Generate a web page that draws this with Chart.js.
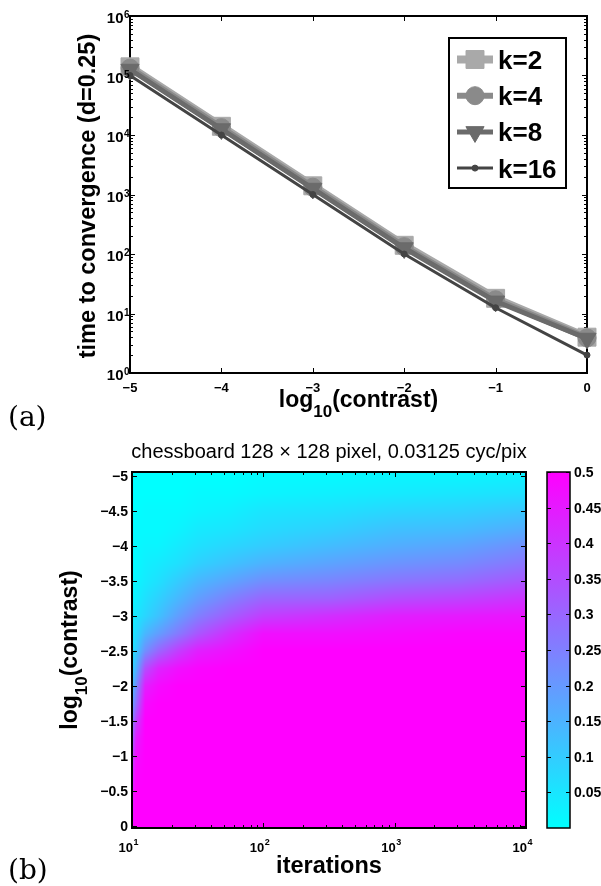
<!DOCTYPE html>
<html>
<head>
<meta charset="utf-8">
<script src="https://cdn.jsdelivr.net/npm/chart.js@4/dist/chart.umd.min.js"></script>
<style>
html,body{margin:0;padding:0;background:#fff;}
body{width:601px;height:886px;position:relative;overflow:hidden;}
#c1{position:absolute;left:0;top:0;}
#c2{position:absolute;left:0;top:425px;}
.lab{position:absolute;font-family:"DejaVu Serif","Liberation Serif",serif;font-size:28px;line-height:normal;color:#000;}
</style>
</head>
<body>
<canvas id="c1" width="601" height="425"></canvas>
<canvas id="c2" width="601" height="461"></canvas>
<div class="lab" style="left:8px;top:400px">(a)</div>
<div class="lab" style="left:8px;top:853px">(b)</div>
<script>
// ---------------- data: panel (a) ----------------
const contrastExp = [-5, -4, -3, -2, -1, 0];
const timeK2  = [140000, 14000, 1400, 140, 18, 4.0];
const timeK4  = [133000, 13300, 1330, 133, 17, 3.9];
const timeK8  = [126000, 12600, 1260, 126, 16, 3.8];
const timeK16 = [100000, 10000, 1000, 100, 12.5, 2.0];
const seriesLabels = ['k=2', 'k=4', 'k=8', 'k=16'];
const topXTicks = [-5, -4, -3, -2, -1, 0];
const topYTickExps = [0, 1, 2, 3, 4, 5, 6];
const topXTitle = ['log', '10', '(contrast)'];
const topYTitle = 'time to convergence (d=0.25)';

// ---------------- data: panel (b) ----------------
const heatTitle = 'chessboard 128 \u00d7 128 pixel, 0.03125 cyc/pix';
const heatXTitle = 'iterations';
const heatYTitle = ['log', '10', '(contrast)'];
const heatIterExp = [1, 1.03, 1.1, 1.2, 1.35, 1.5, 1.75, 2, 2.5, 3, 3.5, 4];
const heatContrast = [-5, -4.75, -4.5, -4.25, -4, -3.75, -3.5, -3.25, -3, -2.75, -2.5, -2.25, -2, -1.75, -1.5, -1.25, -1, -0.75, -0.5, -0.25, 0];
const heatValues = [
  [0.00,0.00,0.00,0.00,0.00,0.00,0.00,0.01,0.01,0.02,0.02,0.03],
  [0.00,0.00,0.00,0.00,0.00,0.01,0.01,0.02,0.03,0.04,0.05,0.06],
  [0.00,0.00,0.01,0.01,0.01,0.02,0.03,0.05,0.06,0.08,0.09,0.11],
  [0.00,0.01,0.01,0.01,0.02,0.04,0.05,0.07,0.09,0.12,0.13,0.16],
  [0.01,0.01,0.02,0.02,0.04,0.06,0.08,0.10,0.13,0.16,0.18,0.22],
  [0.01,0.01,0.03,0.04,0.06,0.09,0.12,0.15,0.18,0.21,0.23,0.27],
  [0.01,0.02,0.04,0.06,0.10,0.14,0.18,0.22,0.24,0.27,0.29,0.33],
  [0.02,0.03,0.06,0.09,0.14,0.19,0.25,0.30,0.31,0.35,0.37,0.40],
  [0.03,0.05,0.08,0.12,0.19,0.25,0.32,0.38,0.41,0.44,0.45,0.46],
  [0.04,0.07,0.14,0.19,0.26,0.33,0.41,0.47,0.47,0.48,0.49,0.49],
  [0.05,0.10,0.22,0.30,0.38,0.44,0.47,0.50,0.50,0.50,0.50,0.50],
  [0.08,0.15,0.35,0.43,0.47,0.49,0.50,0.50,0.50,0.50,0.50,0.50],
  [0.11,0.22,0.44,0.48,0.50,0.50,0.50,0.50,0.50,0.50,0.50,0.50],
  [0.17,0.28,0.48,0.50,0.50,0.50,0.50,0.50,0.50,0.50,0.50,0.50],
  [0.23,0.37,0.50,0.50,0.50,0.50,0.50,0.50,0.50,0.50,0.50,0.50],
  [0.28,0.44,0.50,0.50,0.50,0.50,0.50,0.50,0.50,0.50,0.50,0.50],
  [0.35,0.47,0.50,0.50,0.50,0.50,0.50,0.50,0.50,0.50,0.50,0.50],
  [0.40,0.49,0.50,0.50,0.50,0.50,0.50,0.50,0.50,0.50,0.50,0.50],
  [0.44,0.50,0.50,0.50,0.50,0.50,0.50,0.50,0.50,0.50,0.50,0.50],
  [0.46,0.50,0.50,0.50,0.50,0.50,0.50,0.50,0.50,0.50,0.50,0.50],
  [0.48,0.50,0.50,0.50,0.50,0.50,0.50,0.50,0.50,0.50,0.50,0.50]
];
const heatXTickExps = [1, 2, 3, 4];
const heatYTicks = [-5, -4.5, -4, -3.5, -3, -2.5, -2, -1.5, -1, -0.5, 0];
const colorbarTicks = [0.05, 0.1, 0.15, 0.2, 0.25, 0.3, 0.35, 0.4, 0.45, 0.5];
const colorbarMax = 0.5;

// ---------------- helpers ----------------
const FONT = '"Liberation Sans", Arial, Helvetica, sans-serif';
function fmt(v){ return v < 0 ? '\u2212' + String(-v) : String(v); }
function coolRGB(v){
  let t = v / colorbarMax; t = Math.max(0, Math.min(1, t));
  return [Math.round(255*t), Math.round(255*(1-t)), 255];
}
function drawMarker(ctx, style, r, rot, x, y){
  ctx.beginPath();
  if (style === 'rect'){
    const s = Math.SQRT1_2 * r; ctx.rect(x - s, y - s, 2*s, 2*s);
  } else if (style === 'triangle'){
    let rad = rot * Math.PI / 180;
    ctx.moveTo(x + Math.sin(rad)*r, y - Math.cos(rad)*r);
    rad += 2*Math.PI/3; ctx.lineTo(x + Math.sin(rad)*r, y - Math.cos(rad)*r);
    rad += 2*Math.PI/3; ctx.lineTo(x + Math.sin(rad)*r, y - Math.cos(rad)*r);
    ctx.closePath();
  } else {
    ctx.arc(x, y, r, 0, Math.PI*2);
  }
  ctx.fill(); ctx.stroke();
}
function drawPow(ctx, base, exp, xBaseRight, yBase, fB, fE, raise){
  ctx.textAlign = 'right'; ctx.textBaseline = 'alphabetic';
  ctx.font = 'bold ' + fB + 'px ' + FONT;
  ctx.fillText(base, xBaseRight, yBase);
  ctx.textAlign = 'left';
  ctx.font = 'bold ' + fE + 'px ' + FONT;
  ctx.fillText(exp, xBaseRight + 0.5, yBase - raise);
}
function measure(ctx, font, s){ ctx.font = font; return ctx.measureText(s).width; }
function drawLogTitle(ctx, parts, cx, base, fMain, fSub, drop){
  const fm = 'bold ' + fMain + 'px ' + FONT, fs = 'bold ' + fSub + 'px ' + FONT;
  const w0 = measure(ctx, fm, parts[0]), w1 = measure(ctx, fs, parts[1]) , w2 = measure(ctx, fm, parts[2]);
  let x0 = cx - (w0 + w1 + w2) / 2;
  ctx.textAlign = 'left'; ctx.textBaseline = 'alphabetic';
  ctx.font = fm; ctx.fillText(parts[0], x0, base);
  ctx.font = fs; ctx.fillText(parts[1], x0 + w0, base + drop);
  ctx.font = fm; ctx.fillText(parts[2], x0 + w0 + w1, base);
}

// ---------------- panel (a) ----------------
const seriesStyle = [
  {data: timeK2,  color: '#a9a9a9', width: 8, style: 'rect',     r: 12.7, rot: 0,   order: 4},
  {data: timeK4,  color: '#8a8a8a', width: 6, style: 'circle',   r: 9,    rot: 0,   order: 3},
  {data: timeK8,  color: '#6b6b6b', width: 5, style: 'triangle', r: 10.5, rot: 180, order: 2},
  {data: timeK16, color: '#444444', width: 3, style: 'circle',   r: 3,    rot: 0,   order: 1}
];
const topDatasets = seriesStyle.map((s, i) => ({
  label: seriesLabels[i],
  data: contrastExp.map((c, j) => ({x: c, y: s.data[j]})),
  borderColor: s.color, backgroundColor: s.color,
  borderWidth: s.width,
  pointStyle: s.style, pointRadius: s.r, pointRotation: s.rot,
  pointBackgroundColor: s.color, pointBorderColor: s.color, pointBorderWidth: 1,
  tension: 0, clip: false, order: s.order
}));

const topDeco = {
  id: 'topDeco',
  beforeDatasetsDraw(chart){
    const {ctx, chartArea: a, scales: {x, y}} = chart;
    ctx.save();
    ctx.strokeStyle = '#000';
    ctx.lineWidth = 1;
    ctx.beginPath();
    topXTicks.forEach(v => {
      const px = Math.round(x.getPixelForValue(v)) + 0.5;
      ctx.moveTo(px, a.bottom); ctx.lineTo(px, a.bottom - 5);
      ctx.moveTo(px, a.top); ctx.lineTo(px, a.top + 5);
    });
    topYTickExps.forEach((e, i) => {
      const py = Math.round(y.getPixelForValue(Math.pow(10, e))) + 0.5;
      ctx.moveTo(a.left, py); ctx.lineTo(a.left + 5, py);
      ctx.moveTo(a.right, py); ctx.lineTo(a.right - 5, py);
      if (i < topYTickExps.length - 1){
        for (let m = 2; m <= 9; m++){
          const pm = Math.round(y.getPixelForValue(m * Math.pow(10, e))) + 0.5;
          ctx.moveTo(a.left, pm); ctx.lineTo(a.left + 3, pm);
          ctx.moveTo(a.right, pm); ctx.lineTo(a.right - 3, pm);
        }
      }
    });
    ctx.stroke();
    ctx.lineWidth = 2;
    ctx.strokeRect(a.left, a.top, a.right - a.left, a.bottom - a.top);
    ctx.restore();
  },
  afterDraw(chart){
    const {ctx, chartArea: a, scales: {x, y}} = chart;
    ctx.save();
    ctx.fillStyle = '#000';
    ctx.font = 'bold 13px ' + FONT; ctx.textAlign = 'center'; ctx.textBaseline = 'alphabetic';
    topXTicks.forEach(v => ctx.fillText(fmt(v), x.getPixelForValue(v), 391.5));
    topYTickExps.forEach(e => {
      const py = y.getPixelForValue(Math.pow(10, e));
      drawPow(ctx, '10', String(e), 123.5, py + 7, 15, 10, 5);
    });
    drawLogTitle(ctx, topXTitle, (a.left + a.right) / 2, 407, 23, 17, 10);
    ctx.save();
    ctx.translate(95, 196); ctx.rotate(-Math.PI / 2);
    ctx.font = 'bold 23.5px ' + FONT; ctx.textAlign = 'center'; ctx.textBaseline = 'alphabetic';
    ctx.fillText(topYTitle, 0, 0);
    ctx.restore();
    // legend
    const bx = 449, by = 38, bw = 117, bh = 150;
    ctx.fillStyle = '#fff'; ctx.fillRect(bx, by, bw, bh);
    ctx.strokeStyle = '#000'; ctx.lineWidth = 2; ctx.strokeRect(bx, by, bw, bh);
    chart.data.datasets.forEach((ds, i) => {
      const yy = 59.5 + i * 36.2;
      ctx.strokeStyle = ds.borderColor; ctx.lineWidth = ds.borderWidth;
      ctx.beginPath(); ctx.moveTo(457, yy); ctx.lineTo(493, yy); ctx.stroke();
      ctx.fillStyle = ds.pointBackgroundColor; ctx.lineWidth = 1;
      drawMarker(ctx, ds.pointStyle, ds.pointRadius, ds.pointRotation, 475, yy);
      ctx.fillStyle = '#000';
      ctx.font = 'bold 26px ' + FONT; ctx.textAlign = 'left'; ctx.textBaseline = 'alphabetic';
      ctx.fillText(ds.label, 498, yy + 9.5);
    });
    ctx.restore();
  }
};

new Chart(document.getElementById('c1'), {
  type: 'line',
  data: {datasets: topDatasets},
  options: {
    responsive: false, animation: false, events: [],
    layout: {padding: {top: 16, right: 14, left: 0, bottom: 0}},
    plugins: {legend: {display: false}, tooltip: {enabled: false}, title: {display: false}},
    scales: {
      x: {type: 'linear', min: -5, max: 0,
          ticks: {display: false}, grid: {display: false}, border: {display: false},
          afterFit(s){ s.height = 52; }},
      y: {type: 'logarithmic', min: 1, max: 1e6,
          ticks: {display: false}, grid: {display: false}, border: {display: false},
          afterFit(s){ s.width = 130; }}
    }
  },
  plugins: [topDeco]
});

// ---------------- panel (b) ----------------
function locate(arr, v){
  if (v <= arr[0]) return [0, 0];
  const n = arr.length - 1;
  if (v >= arr[n]) return [n - 1, 1];
  let i = 0; while (v > arr[i + 1]) i++;
  return [i, (v - arr[i]) / (arr[i + 1] - arr[i])];
}
const heatPoints = [];
heatContrast.forEach((c, j) => heatIterExp.forEach((L, i) =>
  heatPoints.push({x: Math.pow(10, L), y: c, v: heatValues[j][i]})));

const heatDeco = {
  id: 'heatDeco',
  beforeDatasetsDraw(chart){
    const {ctx, chartArea: a, scales: {x, y, cb}} = chart;
    const L0 = Math.round(a.left), T0 = Math.round(a.top);
    const w = Math.round(a.right) - L0, h = Math.round(a.bottom) - T0;
    const img = ctx.createImageData(w, h);
    const colLoc = [], rowLoc = [];
    for (let i = 0; i < w; i++) colLoc.push(locate(heatIterExp, Math.log10(x.getValueForPixel(L0 + i + 0.5))));
    for (let j = 0; j < h; j++) rowLoc.push(locate(heatContrast, y.getValueForPixel(T0 + j + 0.5)));
    for (let j = 0; j < h; j++){
      const [rj, fy] = rowLoc[j];
      const r0 = heatValues[rj], r1 = heatValues[Math.min(rj + 1, heatValues.length - 1)];
      for (let i = 0; i < w; i++){
        const [ci, fx] = colLoc[i];
        const c1 = Math.min(ci + 1, heatIterExp.length - 1);
        const top = r0[ci] * (1 - fx) + r0[c1] * fx;
        const bot = r1[ci] * (1 - fx) + r1[c1] * fx;
        const v = top * (1 - fy) + bot * fy;
        const [R, G, B] = coolRGB(v);
        const k = (j * w + i) * 4;
        img.data[k] = R; img.data[k + 1] = G; img.data[k + 2] = B; img.data[k + 3] = 255;
      }
    }
    ctx.putImageData(img, L0, T0);
    ctx.save();
    ctx.strokeStyle = '#000'; ctx.lineWidth = 1;
    ctx.beginPath();
    heatYTicks.forEach(v => {
      const py = Math.round(y.getPixelForValue(v)) + 0.5;
      ctx.moveTo(a.left, py); ctx.lineTo(a.left + 5, py);
      ctx.moveTo(a.right, py); ctx.lineTo(a.right - 5, py);
    });
    heatXTickExps.forEach((e, i) => {
      const px = Math.round(x.getPixelForValue(Math.pow(10, e))) + 0.5;
      ctx.moveTo(px, a.bottom); ctx.lineTo(px, a.bottom - 5);
      ctx.moveTo(px, a.top); ctx.lineTo(px, a.top + 5);
      if (i < heatXTickExps.length - 1){
        for (let m = 2; m <= 9; m++){
          const pm = Math.round(x.getPixelForValue(m * Math.pow(10, e))) + 0.5;
          ctx.moveTo(pm, a.bottom); ctx.lineTo(pm, a.bottom - 3);
          ctx.moveTo(pm, a.top); ctx.lineTo(pm, a.top + 3);
        }
      }
    });
    ctx.stroke();
    ctx.lineWidth = 2;
    ctx.strokeRect(a.left, a.top, a.right - a.left, a.bottom - a.top);
    // colorbar
    const cx0 = 547, cx1 = 570;
    const yTop = cb.getPixelForValue(colorbarMax), yBot = cb.getPixelForValue(0);
    const g = ctx.createLinearGradient(0, yBot, 0, yTop);
    const c0 = coolRGB(0), c1 = coolRGB(colorbarMax);
    g.addColorStop(0, 'rgb(' + c0.join(',') + ')');
    g.addColorStop(1, 'rgb(' + c1.join(',') + ')');
    ctx.fillStyle = g;
    ctx.fillRect(cx0, yTop, cx1 - cx0, yBot - yTop);
    ctx.lineWidth = 1;
    ctx.beginPath();
    colorbarTicks.forEach(v => {
      const py = Math.round(cb.getPixelForValue(v)) + 0.5;
      ctx.moveTo(cx0, py); ctx.lineTo(cx0 + 4, py);
      ctx.moveTo(cx1, py); ctx.lineTo(cx1 - 4, py);
    });
    ctx.stroke();
    ctx.lineWidth = 1.5;
    ctx.strokeRect(cx0, yTop, cx1 - cx0, yBot - yTop);
    ctx.restore();
  },
  afterDraw(chart){
    const {ctx, chartArea: a, scales: {x, y, cb}} = chart;
    ctx.save();
    ctx.fillStyle = '#000';
    ctx.font = '20px ' + FONT; ctx.textAlign = 'center'; ctx.textBaseline = 'alphabetic';
    ctx.fillText(heatTitle, (a.left + a.right) / 2, 33);
    ctx.font = 'bold 14px ' + FONT; ctx.textAlign = 'right';
    heatYTicks.forEach(v => ctx.fillText(fmt(v), 128, y.getPixelForValue(v) + 5));
    ctx.textAlign = 'left';
    colorbarTicks.forEach(v => ctx.fillText(String(v), 574, cb.getPixelForValue(v) + 5));
    heatXTickExps.forEach(e => {
      const px = x.getPixelForValue(Math.pow(10, e));
      drawPow(ctx, '10', String(e), px + 1, 427, 13, 9, 7);
    });
    ctx.font = 'bold 23.5px ' + FONT; ctx.textAlign = 'center';
    ctx.fillText(heatXTitle, (a.left + a.right) / 2, 448);
    ctx.save();
    ctx.translate(77, (a.top + a.bottom) / 2); ctx.rotate(-Math.PI / 2);
    drawLogTitle(ctx, heatYTitle, 0, 0, 23, 17, 10);
    ctx.restore();
    ctx.restore();
  }
};

new Chart(document.getElementById('c2'), {
  type: 'scatter',
  data: {datasets: [{label: 'heat', data: heatPoints, pointRadius: 0, showLine: false}]},
  options: {
    responsive: false, animation: false, events: [],
    layout: {padding: {top: 47, right: 0, left: 0, bottom: 0}},
    plugins: {legend: {display: false}, tooltip: {enabled: false}, title: {display: false}},
    scales: {
      x: {type: 'logarithmic', min: 10, max: 10000,
          ticks: {display: false}, grid: {display: false}, border: {display: false},
          afterFit(s){ s.height = 58; }},
      y: {type: 'linear', reverse: true, min: -5.057, max: 0.029,
          ticks: {display: false}, grid: {display: false}, border: {display: false},
          afterFit(s){ s.width = 132; }},
      cb: {type: 'linear', axis: 'y', position: 'right', min: 0, max: colorbarMax,
          ticks: {display: false}, grid: {display: false}, border: {display: false},
          afterFit(s){ s.width = 75; }}
    }
  },
  plugins: [heatDeco]
});
</script>
</body>
</html>
